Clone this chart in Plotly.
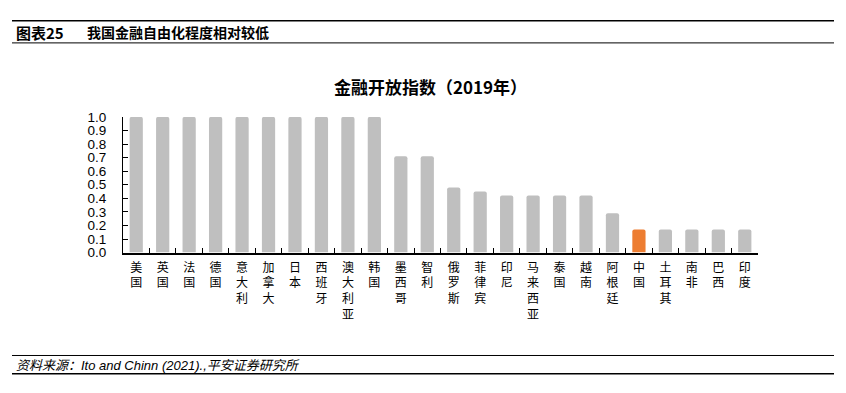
import plotly.graph_objects as go

countries = ["美国", "英国", "法国", "德国", "意大利", "加拿大", "日本", "西班牙", "澳大利亚", "韩国",
             "墨西哥", "智利", "俄罗斯", "菲律宾", "印尼", "马来西亚", "泰国", "越南", "阿根廷",
             "中国", "土耳其", "南非", "巴西", "印度"]
values = [1.0, 1.0, 1.0, 1.0, 1.0, 1.0, 1.0, 1.0, 1.0, 1.0,
          0.71, 0.71, 0.48, 0.45, 0.42, 0.42, 0.42, 0.42, 0.29,
          0.17, 0.17, 0.17, 0.17, 0.17]
y_ticks = [0.0, 0.1, 0.2, 0.3, 0.4, 0.5, 0.6, 0.7, 0.8, 0.9, 1.0]

FONT = "Liberation Sans, Arial, Noto Sans CJK SC"
colors = ["#ED7D31" if c == "中国" else "#BFBFBF" for c in countries]
ticktext = ["<br>".join(list(c)) for c in countries]

W, H = 846, 393
OFF = 8  # page body margin
def px(x):
    return (x - OFF) / W
def py(y):
    return (H - (y - OFF)) / H

fig = go.Figure(go.Bar(x=countries, y=values, marker=dict(color=colors, line=dict(width=0), cornerradius=2),
                       width=0.5))

fig.update_layout(
    width=W, height=H, margin=dict(l=0, r=0, t=0, b=0),
    paper_bgcolor="white", plot_bgcolor="white", showlegend=False,
    font=dict(family=FONT, color="black"),
    xaxis=dict(domain=[px(123), px(758)], type="category", tickvals=countries, ticktext=ticktext,
               tickson="boundaries", ticks="inside", ticklen=5, tickcolor="black", tickwidth=1,
               showline=True, linecolor="black", linewidth=1.5, showgrid=False,
               tickfont=dict(size=12, family="Noto Sans CJK SC"), tickangle=0, ticklabelstandoff=3),
    yaxis=dict(domain=[py(255), py(114)], range=[0, 1.0], tickvals=y_ticks,
               ticktext=[f"{v:.1f}" for v in y_ticks],
               ticks="inside", ticklen=5, tickcolor="black", showline=True, linecolor="black",
               linewidth=1, showgrid=False, zeroline=False, tickfont=dict(size=13.5, family=FONT),
               ticklabelstandoff=13),
)

line_shapes = [(14, 1.5), (37, 1), (362, 1), (381, 1.5)]
for y, w in line_shapes:
    fig.add_shape(type="line", xref="paper", yref="paper", x0=px(12), x1=px(834), y0=py(y), y1=py(y),
                  line=dict(color="black", width=w))

fig.add_annotation(xref="paper", yref="paper", x=px(14), y=py(26), text="<b>图表25</b>", showarrow=False,
                   xanchor="left", yanchor="middle", font=dict(size=15, family="Noto Sans CJK SC"))
fig.add_annotation(xref="paper", yref="paper", x=px(85), y=py(26), text="<b>我国金融自由化程度相对较低</b>",
                   showarrow=False, xanchor="left", yanchor="middle", font=dict(size=14, family="Noto Sans CJK SC"))
fig.add_annotation(xref="paper", yref="paper", x=px(430), y=py(82), text="<b>金融开放指数（2019年）</b>",
                   showarrow=False, xanchor="center", yanchor="middle", font=dict(size=17, family="Noto Sans CJK SC"))
fig.add_annotation(xref="paper", yref="paper", x=px(14), y=py(372),
                   text="<i>资料来源：Ito and Chinn (2021).,平安证券研究所</i>",
                   showarrow=False, xanchor="left", yanchor="middle", font=dict(size=13, family=FONT))

fig.write_html("out.html")
